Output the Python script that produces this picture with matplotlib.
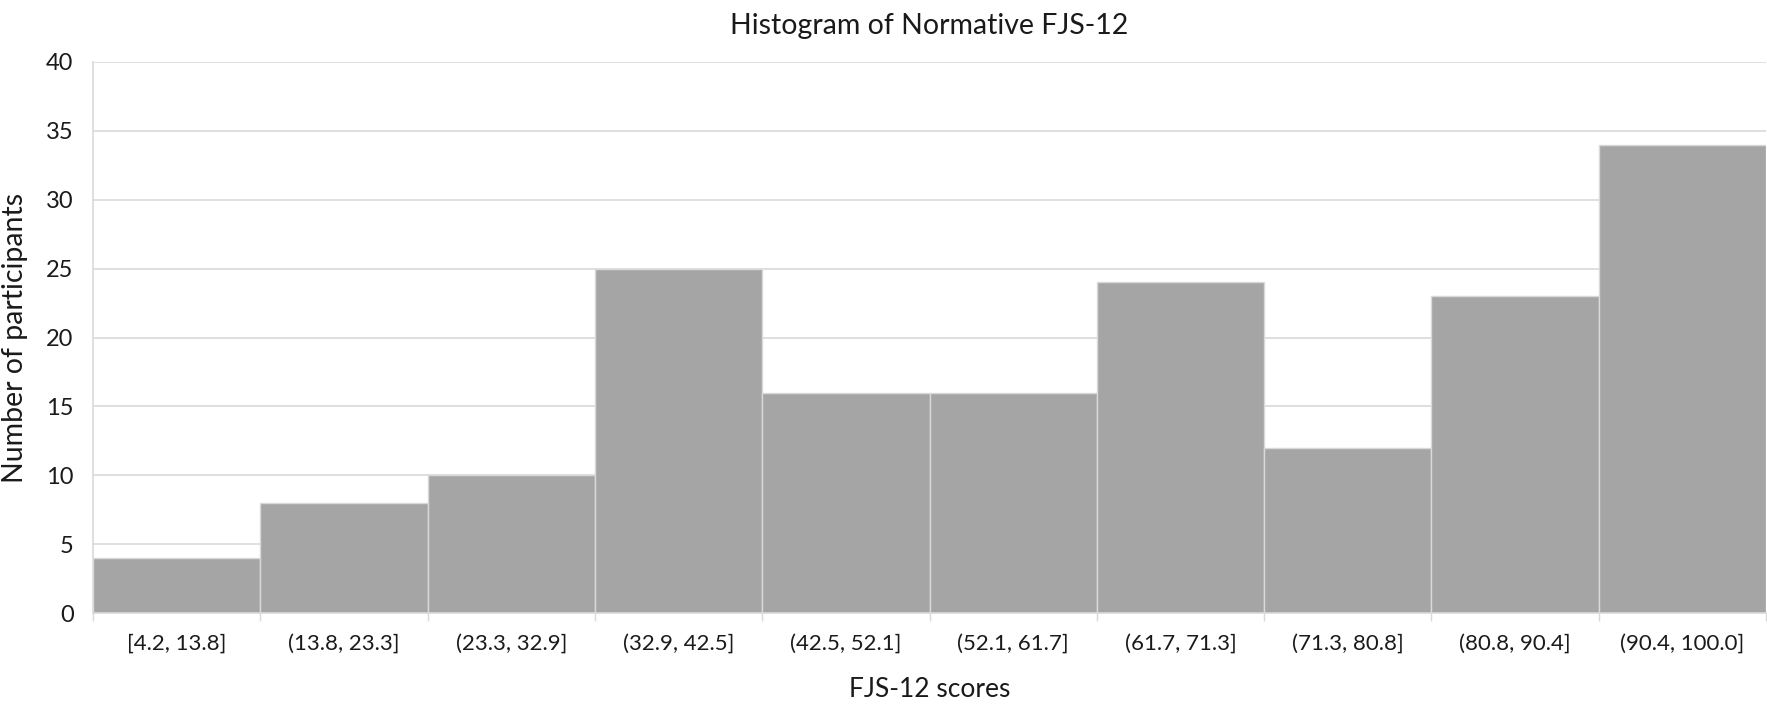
import matplotlib
matplotlib.use("Agg")
import matplotlib.pyplot as plt
import numpy as np

# data
bins = ["[4.2, 13.8]", "(13.8, 23.3]", "(23.3, 32.9]", "(32.9, 42.5]", "(42.5, 52.1]",
        "(52.1, 61.7]", "(61.7, 71.3]", "(71.3, 80.8]", "(80.8, 90.4]", "(90.4, 100.0]"]
counts = [4, 8, 10, 25, 16, 16, 24, 12, 23, 34]

plt.rcParams['font.family'] = ['Lato', 'DejaVu Sans']

fig = plt.figure(figsize=(17.67, 7.08), dpi=100)
ax = fig.add_axes([93/1767, 1-613/708, (1766-93)/1767, (613-62)/708])

x = np.arange(len(bins))
ax.bar(x, counts, width=1.0, color='#a5a5a5', edgecolor='#d9d9d9', linewidth=1, zorder=2)

ax.set_xlim(-0.5, len(bins) - 0.5)
ax.set_ylim(0, 40)
ax.set_yticks(range(0, 41, 5))
ax.yaxis.grid(True, color='#d9d9d9', linewidth=1.2, zorder=0)
ax.set_axisbelow(True)

# labels at bar centres, tick marks at bin edges
ax.set_xticks(x)
ax.set_xticklabels(bins)
ax.set_xticks(np.arange(-0.5, len(bins)), minor=True)
ax.tick_params(axis='x', which='major', length=0, pad=15, labelsize=16, labelcolor='#1a1a1a')
ax.tick_params(axis='x', which='minor', length=6, width=1, color='#d9d9d9')
ax.tick_params(axis='y', length=0, pad=14, labelsize=17, labelcolor='#1a1a1a')

for s in ['top', 'right']:
    ax.spines[s].set_visible(False)
for s in ['left', 'bottom']:
    ax.spines[s].set_color('#d9d9d9')
    ax.spines[s].set_linewidth(1.2)

ax.set_title("Histogram of Normative FJS-12", fontsize=20.5, color='#1a1a1a', pad=20)
ax.set_xlabel("FJS-12 scores", fontsize=19, color='#1a1a1a', labelpad=17)
ax.set_ylabel("Number of participants", fontsize=20.5, color='#1a1a1a', labelpad=13)

fig.savefig("out.png", dpi=100, facecolor='white')
